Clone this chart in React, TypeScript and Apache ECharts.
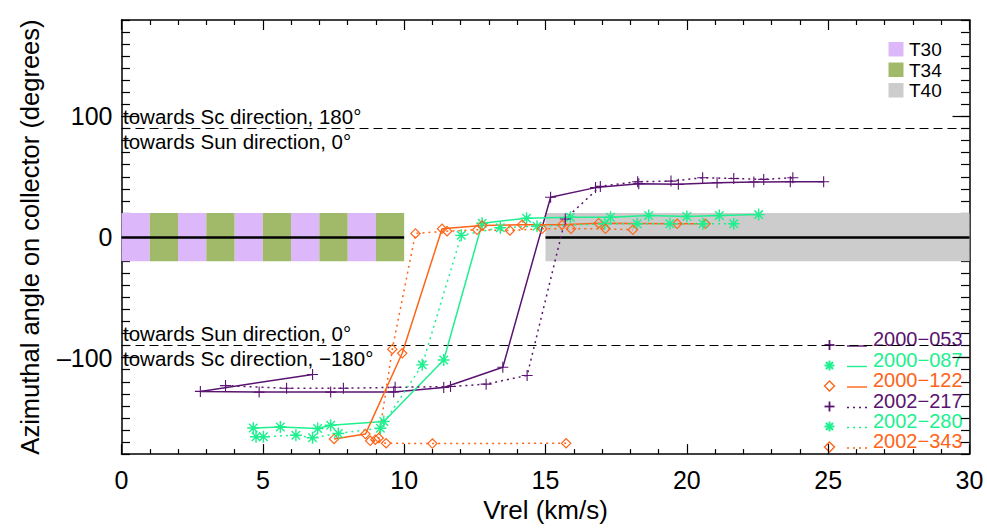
import React, { useEffect, useRef } from "react";
import * as echarts from "echarts";

// ---- data ----
const s2000_053: number[][] = [[6.76,-114],[2.79,-128],[4.87,-128.6],[7.4,-128.6],[9.63,-128.4],[11.4,-124.8],[13.49,-108],[15.18,33],[16.77,41],[18.3,44.3],[19.7,43.7],[21.07,45],[22.37,45.6],[23.66,45.9],[24.84,45.9]];
const s2002_217: number[][] = [[3.68,-123.2],[5.84,-125.4],[7.85,-125.4],[9.68,-124.6],[11.64,-124],[12.9,-122],[14.35,-114.8],[15.7,15],[16.94,42],[18.26,45.9],[19.44,46.4],[20.56,49.2],[21.66,48.6],[22.72,47.8],[23.75,49.2]];
const s2000_087: number[][] = [[4.66,-158.3],[5.62,-157.5],[6.94,-158.8],[7.4,-156],[9.28,-153],[11.4,-102],[12.76,11.5],[14.33,15.6],[15.88,16.4],[17.3,16.4],[18.65,17.8],[20.0,17],[21.15,17.8],[22.54,18.6]];
const s2002_280: number[][] = [[4.76,-165.6],[5.02,-165.6],[6.17,-164.3],[6.76,-166.5],[7.67,-162.9],[9.16,-158.5],[10.64,-106],[12.02,1.4],[13.4,7.7],[14.7,9],[17.1,11],[18.24,11],[19.4,11],[20.57,11],[21.66,11]];
const s2000_122: number[][] = [[7.52,-167.4],[8.63,-163.4],[9.93,-96.4],[11.34,6.8],[12.76,9.6],[14.17,10.1],[15.59,10.1],[16.88,11.5],[19.66,11],[20.66,11]];
const s2002_343: number[][] = [[15.73,-171],[11.0,-171.3],[9.36,-171],[8.8,-169],[8.98,-168],[9.1,-166.7],[9.58,-93],[10.4,3],[11.52,4.9],[12.58,6],[13.74,5.5],[14.88,6.8],[15.9,6.8],[17.12,6.8],[18.09,6]];

const seriesNames = ["2000−053", "2000−087", "2000−122", "2002−217", "2002−280", "2002−343"];

// instrument bands: [xStart, xEnd]
const t30Segments: number[][] = [[0,1],[2,3],[4,5],[6,7],[8,9]];
const t34Segments: number[][] = [[1,2],[3,4],[5,6],[7,8],[9,10]];
const t40Segments: number[][] = [[15,30]];
const bandHalfWidth = 20;
const zeroLineSegments: number[][] = [[0,10],[15,30]];
const directionLines = [90, -90];

const yMajorTicks = [-100, 0, 100];
const yMinorTicks: number[] = [];
for (let v = -180; v <= 180; v += 10) yMinorTicks.push(v);

// ---- styles ----
const PURPLE = "#5a1370";
const GREEN = "#1ef08f";
const ORANGE = "#ff6418";
const LAVENDER = "#dcb8fa";
const OLIVE = "#a0ba6a";
const GRAY = "#cccccc";
const FONT = "'Liberation Sans', Arial, Helvetica, sans-serif";

function rectArm(angleDeg: number, w: number): string {
  const a = (angleDeg * Math.PI) / 180;
  const dx = Math.cos(a), dy = Math.sin(a);
  const nx = -dy, ny = dx;
  const pts = [
    [dx + nx * w, dy + ny * w],
    [dx - nx * w, dy - ny * w],
    [-dx - nx * w, -dy - ny * w],
    [-dx + nx * w, -dy + ny * w],
  ];
  return "M" + pts.map((p) => p[0].toFixed(3) + "," + p[1].toFixed(3)).join(" L") + " Z";
}
const PLUS = "path://" + rectArm(0, 0.1) + " " + rectArm(90, 0.1);
const STAR = "path://" + [0, 45, 90, 135].map((a) => rectArm(a, 0.12)).join(" ");
const DIAMOND = "path://M0,-1 L1,0 L0,1 L-1,0 Z M0,-0.7 L-0.7,0 L0,0.7 L0.7,0 Z";

const DOT = [2, 4];

export default function App() {
  const ref = useRef<HTMLDivElement>(null);
  useEffect(() => {
    if (!ref.current) return;
    const chart = echarts.init(ref.current, undefined, { renderer: "svg" });

    const mkSeries = (name: string, data: number[][], color: string, symbol: string, size: number, dotted: boolean) => ({
      type: "line",
      name,
      data,
      symbol,
      symbolSize: size,
      showAllSymbol: true,
      lineStyle: { color, width: 1.5, type: dotted ? DOT : "solid" },
      itemStyle: { color },
      z: 5,
      silent: true,
    });

    const areaData: any[] = [];
    t30Segments.forEach((s) => areaData.push([{ xAxis: s[0], yAxis: -bandHalfWidth, itemStyle: { color: LAVENDER } }, { xAxis: s[1], yAxis: bandHalfWidth }]));
    t34Segments.forEach((s) => areaData.push([{ xAxis: s[0], yAxis: -bandHalfWidth, itemStyle: { color: OLIVE } }, { xAxis: s[1], yAxis: bandHalfWidth }]));
    t40Segments.forEach((s) => areaData.push([{ xAxis: s[0], yAxis: -bandHalfWidth, itemStyle: { color: GRAY } }, { xAxis: s[1], yAxis: bandHalfWidth }]));

    const lineData: any[] = [];
    zeroLineSegments.forEach((s) => lineData.push([{ coord: [s[0], 0], lineStyle: { color: "#000", width: 2.6, type: "solid" } }, { coord: [s[1], 0] }]));
    directionLines.forEach((v) => lineData.push({ yAxis: v, lineStyle: { color: "#000", width: 1.2, type: [9, 5] } }));

    // legend graphics
    const legendX = 829.5;
    const legendRows = [345, 365.5, 386, 406.5, 426.5, 447];
    const legendColors = [PURPLE, GREEN, ORANGE, PURPLE, GREEN, ORANGE];
    const legendSym = ["plus", "star", "diamond", "plus", "star", "diamond"];
    const g: any[] = [];
    legendRows.forEach((y, i) => {
      const c = legendColors[i];
      const r = 5;
      if (legendSym[i] === "plus") {
        g.push({ type: "line", shape: { x1: legendX - r, y1: y, x2: legendX + r, y2: y }, style: { stroke: c, lineWidth: 1.8 } });
        g.push({ type: "line", shape: { x1: legendX, y1: y - r, x2: legendX, y2: y + r }, style: { stroke: c, lineWidth: 1.8 } });
      } else if (legendSym[i] === "star") {
        [0, 45, 90, 135].forEach((a) => {
          const rad = (a * Math.PI) / 180;
          g.push({ type: "line", shape: { x1: legendX - r * Math.cos(rad), y1: y - r * Math.sin(rad), x2: legendX + r * Math.cos(rad), y2: y + r * Math.sin(rad) }, style: { stroke: c, lineWidth: 2 } });
        });
      } else {
        g.push({ type: "polygon", shape: { points: [[legendX, y - r], [legendX + r, y], [legendX, y + r], [legendX - r, y]] }, style: { fill: "none", stroke: c, lineWidth: 1.4 } });
      }
      g.push({ type: "line", shape: { x1: 847, y1: y + 1, x2: 867, y2: y + 1 }, style: { stroke: c, lineWidth: 1.4, lineDash: i >= 3 ? DOT : null } });
      g.push({ type: "text", x: 873, y: y - 6, style: { text: seriesNames[i], fill: c, fontSize: 20, fontFamily: FONT, verticalAlign: "middle", align: "left" } });
    });
    const boxLegend = [["T30", LAVENDER], ["T34", OLIVE], ["T40", GRAY]];
    boxLegend.forEach((b, i) => {
      const top = 42 + i * 20.5;
      g.push({ type: "rect", shape: { x: 888.5, y: top, width: 15, height: 14.5 }, style: { fill: b[1] } });
      g.push({ type: "text", x: 909, y: top + 7.5, style: { text: b[0], fill: "#000", fontSize: 19, fontFamily: FONT, verticalAlign: "middle", align: "left" } });
    });
    const notes = [
      ["towards Sc direction, 180°", 116.5],
      ["towards Sun direction, 0°", 141.5],
      ["towards Sun direction, 0°", 333],
      ["towards Sc direction, −180°", 358],
    ];
    notes.forEach((n) => {
      g.push({ type: "text", x: 123, y: n[1], z: 10, style: { text: n[0], fill: "#000", fontSize: 20.5, fontFamily: FONT, verticalAlign: "middle", align: "left" } });
    });

    const axisLine = { show: true, onZero: false, lineStyle: { color: "#000", width: 1.5 } };
    const tickLS = { color: "#000", width: 1.2 };
    const fmt = (v: number) => (v < 0 ? "–" + Math.abs(v) : String(v));

    const xBase = {
      type: "value",
      min: 0,
      max: 30,
      interval: 5,
      axisLine,
      axisTick: { show: true, inside: true, length: 10, lineStyle: tickLS },
      minorTick: { show: true, splitNumber: 5, length: 5, lineStyle: tickLS },
      splitLine: { show: false },
      minorSplitLine: { show: false },
    };
    const yBase = {
      type: "value",
      min: -180,
      max: 180,
      splitLine: { show: false },
    };
    const noLine = { show: false, onZero: false };

    chart.setOption({
      animation: false,
      textStyle: { fontFamily: FONT },
      grid: { left: 121.5, right: 17.5, top: 20, bottom: 69.5, containLabel: false },
      xAxis: [
        {
          ...xBase,
          position: "bottom",
          axisLabel: { show: true, fontSize: 25, color: "#000", margin: 13, fontFamily: FONT },
          name: "Vrel (km/s)",
          nameLocation: "middle",
          nameGap: 37,
          nameTextStyle: { fontSize: 26, color: "#000", fontFamily: FONT },
        },
        { ...xBase, position: "top", axisLabel: { show: false } },
      ],
      yAxis: [
        {
          ...yBase,
          position: "left",
          axisLine,
          axisTick: { show: true, inside: true, length: 17, customValues: yMajorTicks, lineStyle: tickLS },
          axisLabel: { show: true, customValues: yMajorTicks, formatter: fmt, fontSize: 25, color: "#000", margin: 9, fontFamily: FONT },
          name: "Azimuthal angle on collector (degrees)",
          nameLocation: "middle",
          nameGap: 79,
          nameTextStyle: { fontSize: 25.5, color: "#000", fontFamily: FONT },
        },
        {
          ...yBase,
          position: "left",
          axisLine: noLine,
          axisTick: { show: true, inside: true, length: 8.5, customValues: yMinorTicks, lineStyle: tickLS },
          axisLabel: { show: false },
        },
        {
          ...yBase,
          position: "right",
          axisLine,
          axisTick: { show: true, inside: true, length: 17, customValues: yMajorTicks, lineStyle: tickLS },
          axisLabel: { show: false },
        },
        {
          ...yBase,
          position: "right",
          axisLine: noLine,
          axisTick: { show: true, inside: true, length: 8.5, customValues: yMinorTicks, lineStyle: tickLS },
          axisLabel: { show: false },
        },
      ],
      series: [
        {
          type: "line",
          name: "bands",
          data: [],
          silent: true,
          z: 1,
          markArea: { silent: true, data: areaData, itemStyle: { opacity: 1 }, label: { show: false } },
        },
        {
          type: "line",
          name: "refs",
          data: [],
          silent: true,
          z: 2,
          markLine: { silent: true, symbol: "none", data: lineData, label: { show: false } },
        },
        mkSeries(seriesNames[0], s2000_053, PURPLE, PLUS, 11, false),
        mkSeries(seriesNames[1], s2000_087, GREEN, STAR, 12, false),
        mkSeries(seriesNames[2], s2000_122, ORANGE, DIAMOND, 11, false),
        mkSeries(seriesNames[3], s2002_217, PURPLE, PLUS, 11, true),
        mkSeries(seriesNames[4], s2002_280, GREEN, STAR, 12, true),
        mkSeries(seriesNames[5], s2002_343, ORANGE, DIAMOND, 11, true),
      ],
      graphic: g,
    });
    return () => chart.dispose();
  }, []);
  return <div ref={ref} style={{ position: "fixed", left: 0, top: 0, width: 987, height: 528, background: "#fff" }} />;
}
